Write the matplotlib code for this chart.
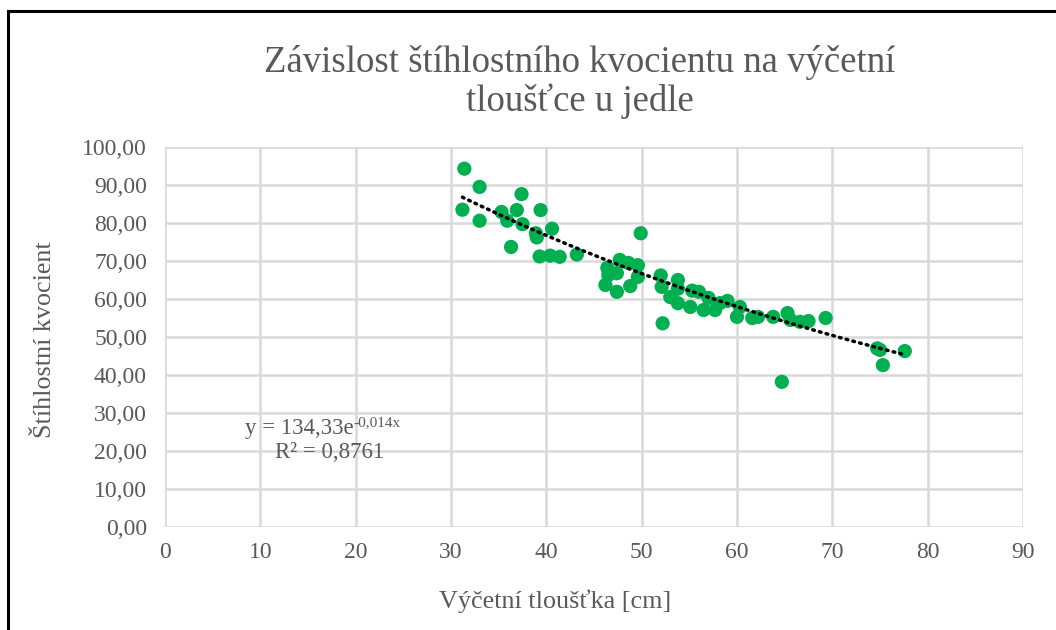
import matplotlib
matplotlib.use("Agg")
import matplotlib.pyplot as plt
import numpy as np
from matplotlib.lines import Line2D

# Data
diameter = [31.4, 31.2, 33.0, 33.0, 35.3, 35.9, 36.3, 36.9, 37.4, 37.5,
            38.9, 39.0, 39.4, 40.6, 39.3, 40.4, 41.4, 43.2, 49.9,
            46.4, 46.5, 46.2, 47.4, 47.7, 48.6, 49.6, 48.8, 47.4, 49.6,
            52.0, 52.1, 52.2, 53.0, 53.8, 53.8, 53.8, 55.3, 55.1, 56.0,
            56.5, 57.0, 57.7, 58.2, 59.0, 60.3, 60.0, 61.6, 62.2, 63.8,
            65.3, 65.6, 66.6, 67.5, 69.3, 64.7, 74.7, 75.0, 75.3, 77.6]
ratio = [94.3, 83.5, 89.5, 80.6, 82.9, 80.6, 73.7, 83.4, 87.6, 79.7,
         77.3, 76.2, 83.4, 78.5, 71.2, 71.4, 71.1, 71.7, 77.3,
         68.2, 66.3, 63.7, 61.9, 70.3, 69.5, 68.9, 63.4, 66.8, 65.8,
         66.2, 63.2, 53.6, 60.5, 65.0, 62.7, 58.9, 62.2, 57.9, 61.9,
         57.1, 60.3, 57.1, 58.9, 59.5, 57.9, 55.3, 55.0, 55.3, 55.3,
         56.3, 54.5, 54.0, 54.2, 55.0, 38.2, 47.0, 46.6, 42.6, 46.3]
trend_a = 134.33
trend_b = -0.014
trend_range = [31.2, 77.6]
x_ticks = [0, 10, 20, 30, 40, 50, 60, 70, 80, 90]
y_ticks = [0, 10, 20, 30, 40, 50, 60, 70, 80, 90, 100]

title_lines = ["Závislost štíhlostního kvocientu na výčetní", "tloušťce u jedle"]
xlabel = "Výčetní tloušťka [cm]"
ylabel = "Štíhlostní kvocient"
eq_main = "y = 134,33e"
eq_sup = "-0,014x"
r2_text = "R² = 0,8761"

plt.rcParams['font.family'] = ['Liberation Serif', 'DejaVu Serif']
TXT = '#595959'

fig = plt.figure(figsize=(10.56, 6.30), dpi=100)
ax = fig.add_axes([165/1056, 103/630, 858/1056, 380/630])

ax.set_xlim(0, 90)
ax.set_ylim(0, 100)
ax.set_xticks(x_ticks)
ax.set_yticks(y_ticks)
ax.set_yticklabels([f"{v:.2f}".replace('.', ',') for v in y_ticks])
ax.grid(True, color='#d9d9d9', lw=1.8, zorder=0)
for s in ax.spines.values():
    s.set_visible(False)
ax.tick_params(axis='both', length=0, labelsize=17, labelcolor=TXT)
ax.tick_params(axis='x', pad=11)
ax.tick_params(axis='y', pad=13)

ax.scatter(diameter, ratio, s=105, color='#00B050', edgecolors='none', zorder=3, clip_on=False)

xt = np.linspace(trend_range[0], trend_range[1], 200)
ax.plot(xt, trend_a * np.exp(trend_b * xt), color='black', lw=2.5,
        linestyle=(0, (0.5, 1.5)), dash_capstyle='round', zorder=4)

t = ax.text(8.4, 26.0, eq_main, fontsize=16.5, color=TXT, va='center', ha='left')
ax.annotate(eq_sup, xy=(1.0, 0.78), xycoords=t, fontsize=11, color=TXT,
            va='center', ha='left')
ax.text(11.5, 19.7, r2_text, fontsize=16.5, color=TXT, va='center', ha='left')

fig.text(580/1056, 1 - 62/630, title_lines[0], ha='center', va='center', fontsize=26.5, color=TXT)
fig.text(580/1056, 1 - 101/630, title_lines[1], ha='center', va='center', fontsize=26.5, color=TXT)

ax.set_xlabel(xlabel, fontsize=18.8, color=TXT)
ax.set_ylabel(ylabel, fontsize=18.8, color=TXT)
ax.xaxis.set_label_coords((555 - 165) / 858, (527 - 601) / 380)
ax.yaxis.set_label_coords((45 - 165) / 858, (527 - 340) / 380)
ax.xaxis.label.set_va('center')
ax.xaxis.label.set_ha('center')
ax.yaxis.label.set_va('center')
ax.yaxis.label.set_ha('center')

# outer frame (left and top)
fig.add_artist(Line2D([8/1056, 8/1056], [0, 1 - 11/630], transform=fig.transFigure,
                      color='black', lw=2.2))
fig.add_artist(Line2D([8/1056, 1], [1 - 11/630, 1 - 11/630], transform=fig.transFigure,
                      color='black', lw=2.2))

fig.savefig("out.png", dpi=100)
